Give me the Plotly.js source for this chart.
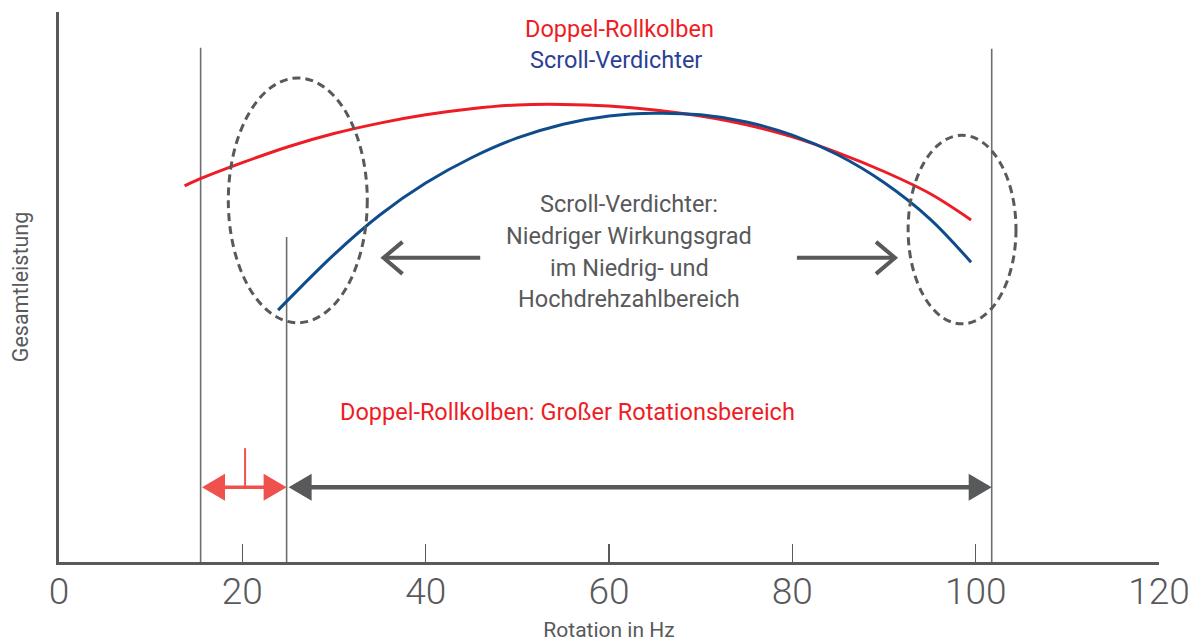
<!DOCTYPE html>
<html>
<head>
<meta charset="utf-8">
<script src="https://cdn.plot.ly/plotly-3.0.1.min.js"></script>
<style>html,body{margin:0;padding:0;background:#fff;}#chart{width:1203px;height:644px;}</style>
</head>
<body>
<div id="chart"></div>
<script>
// ---- data ----
const hzRed   = [13.7, 15, 20, 25, 30, 35, 40, 45, 50, 55, 60, 65, 70, 75, 80, 85, 90, 95, 99.5];
const perfRed = [68.4, 69.4, 72.6, 75.5, 77.9, 79.8, 81.3, 82.4, 83.1, 83.2, 82.9, 82.2, 81.1, 79.5, 77.3, 74.4, 71.0, 67.0, 62.2];
const hzBlue   = [23.9, 30, 35, 40, 45, 50, 55, 60, 65, 70, 75, 80, 85, 90, 95, 99.5];
const perfBlue = [45.8, 55.9, 63.1, 68.9, 73.5, 77.1, 79.6, 81.1, 81.6, 81.3, 80.0, 77.6, 74.0, 69.0, 62.4, 54.5];
const xTicks = [0, 20, 40, 60, 80, 100, 120];
const doppelRange = [15.45, 24.83];   // Hz, Doppel-Rollkolben lower range
const scrollRange = [24.83, 101.75];  // Hz, Scroll-Verdichter range
const nameRed = 'Doppel-Rollkolben';
const nameBlue = 'Scroll-Verdichter';
const noteLines = ['Scroll-Verdichter:', 'Niedriger Wirkungsgrad', 'im Niedrig- und', 'Hochdrehzahlbereich'];
const rangeNote = 'Doppel-Rollkolben: Großer Rotationsbereich';

// ---- styles ----
const GREY = '#58595b';
const RED = '#ee1d25';
const BLUE = '#0f4c8c';
const ARROW_RED = '#ef514d';
const FONT = 'Roboto, "Liberation Sans", sans-serif';
const TXT = 23.5;

const traces = [
  {x: hzRed, y: perfRed, mode: 'lines', name: nameRed,
   line: {color: RED, width: 3, shape: 'spline', smoothing: 1}, hoverinfo: 'skip'},
  {x: hzBlue, y: perfBlue, mode: 'lines', name: nameBlue,
   line: {color: BLUE, width: 3, shape: 'spline', smoothing: 1}, hoverinfo: 'skip'}
];

const arrowY = 13.6, midY = 55.3;
function head(xa, ya, dir, color) {
  const L = 23 * dir, H = 13.5;
  return {type: 'path', xref: 'x', yref: 'y', xsizemode: 'pixel', ysizemode: 'pixel',
    xanchor: xa, yanchor: ya, path: `M0,0 L${L},${H} L${L},${-H} Z`,
    fillcolor: color, line: {width: 0}};
}
function chevron(xa, ya, dir) {
  const L = 19 * dir;
  return {type: 'path', xref: 'x', yref: 'y', xsizemode: 'pixel', ysizemode: 'pixel',
    xanchor: xa, yanchor: ya, path: `M${L},16 L0,0 L${L},-16`,
    line: {color: GREY, width: 4}};
}
const vline = (x, y1) => ({type: 'line', xref: 'x', yref: 'y', x0: x, x1: x, y0: 0, y1: y1,
  line: {color: '#6d6e70', width: 1.6}, layer: 'below'});

const shapes = [
  vline(doppelRange[0], 93.5),
  vline(doppelRange[1], 59.1),
  vline(scrollRange[1], 93.3),
  // dashed ellipses
  {type: 'circle', xref: 'x', yref: 'y', x0: 18.47, x1: 33.63, y0: 43.5, y1: 88.0,
   line: {color: GREY, width: 3, dash: '8px,5px'}},
  {type: 'circle', xref: 'x', yref: 'y', x0: 92.63, x1: 104.4, y0: 43.3, y1: 77.6,
   line: {color: GREY, width: 3, dash: '8px,5px'}},
  // red double arrow
  {type: 'line', xref: 'x', yref: 'y', x0: doppelRange[0] + 2, x1: doppelRange[1] - 2, y0: arrowY, y1: arrowY,
   line: {color: ARROW_RED, width: 3.5}},
  head(doppelRange[0] + 0.15, arrowY, 1, ARROW_RED),
  head(doppelRange[1], arrowY, -1, ARROW_RED),
  {type: 'line', xref: 'x', yref: 'y', x0: 20.3, x1: 20.3, y0: arrowY, y1: 20.7,
   line: {color: ARROW_RED, width: 2}},
  // grey double arrow
  {type: 'line', xref: 'x', yref: 'y', x0: scrollRange[0] + 2, x1: scrollRange[1] - 2, y0: arrowY, y1: arrowY,
   line: {color: GREY, width: 4.5}},
  head(scrollRange[0] + 0.22, arrowY, 1, GREY),
  head(scrollRange[1], arrowY, -1, GREY),
  // middle open arrows
  {type: 'line', xref: 'x', yref: 'y', x0: 35.5, x1: 45.95, y0: midY, y1: midY, line: {color: GREY, width: 4}},
  chevron(35.4, midY, 1),
  {type: 'line', xref: 'x', yref: 'y', x0: 80.5, x1: 91.0, y0: midY, y1: midY, line: {color: GREY, width: 4}},
  chevron(91.2, midY, -1)
];

const txt = (text, x, y, color) => ({text: text, x: x, y: y, xref: 'x', yref: 'y', showarrow: false,
  xanchor: 'center', yanchor: 'middle', font: {family: FONT, size: TXT, color: color}});
const annotations = [
  txt(nameRed, 61.1, 96.9, RED),
  txt(nameBlue, 60.8, 91.2, '#2b3f96'),
  txt(rangeNote, 55.5, 27.3, RED)
];
const noteY = [65.1, 59.3, 53.5, 47.8];
noteLines.forEach((t, i) => annotations.push(txt(t, 62.2, noteY[i], GREY)));

const layout = {
  width: 1203, height: 644,
  margin: {l: 59, r: 44, t: 12, b: 82, pad: 0},
  paper_bgcolor: '#ffffff', plot_bgcolor: '#ffffff',
  showlegend: false,
  font: {family: FONT, color: GREY},
  xaxis: {
    range: [0, 120], tickvals: xTicks, ticktext: xTicks.map(String),
    ticks: 'inside', ticklen: 18, tickwidth: 1.6, tickcolor: GREY,
    showline: true, linewidth: 3, linecolor: GREY, showgrid: false, zeroline: false,
    tickfont: {family: FONT, size: 37, color: GREY, weight: 300},
    ticklabelstandoff: -5,
    title: {text: 'Rotation in Hz', font: {family: FONT, size: 21, color: GREY}, standoff: 10},
    fixedrange: true
  },
  yaxis: {
    range: [0, 100], showticklabels: false, ticks: '',
    showline: true, linewidth: 3, linecolor: GREY, showgrid: false, zeroline: false,
    title: {text: 'Gesamtleistung', font: {family: FONT, size: 21.5, color: GREY}, standoff: 22},
    fixedrange: true
  },
  shapes: shapes,
  annotations: annotations
};

Plotly.newPlot('chart', traces, layout, {displayModeBar: false, staticPlot: true});
</script>
</body>
</html>
